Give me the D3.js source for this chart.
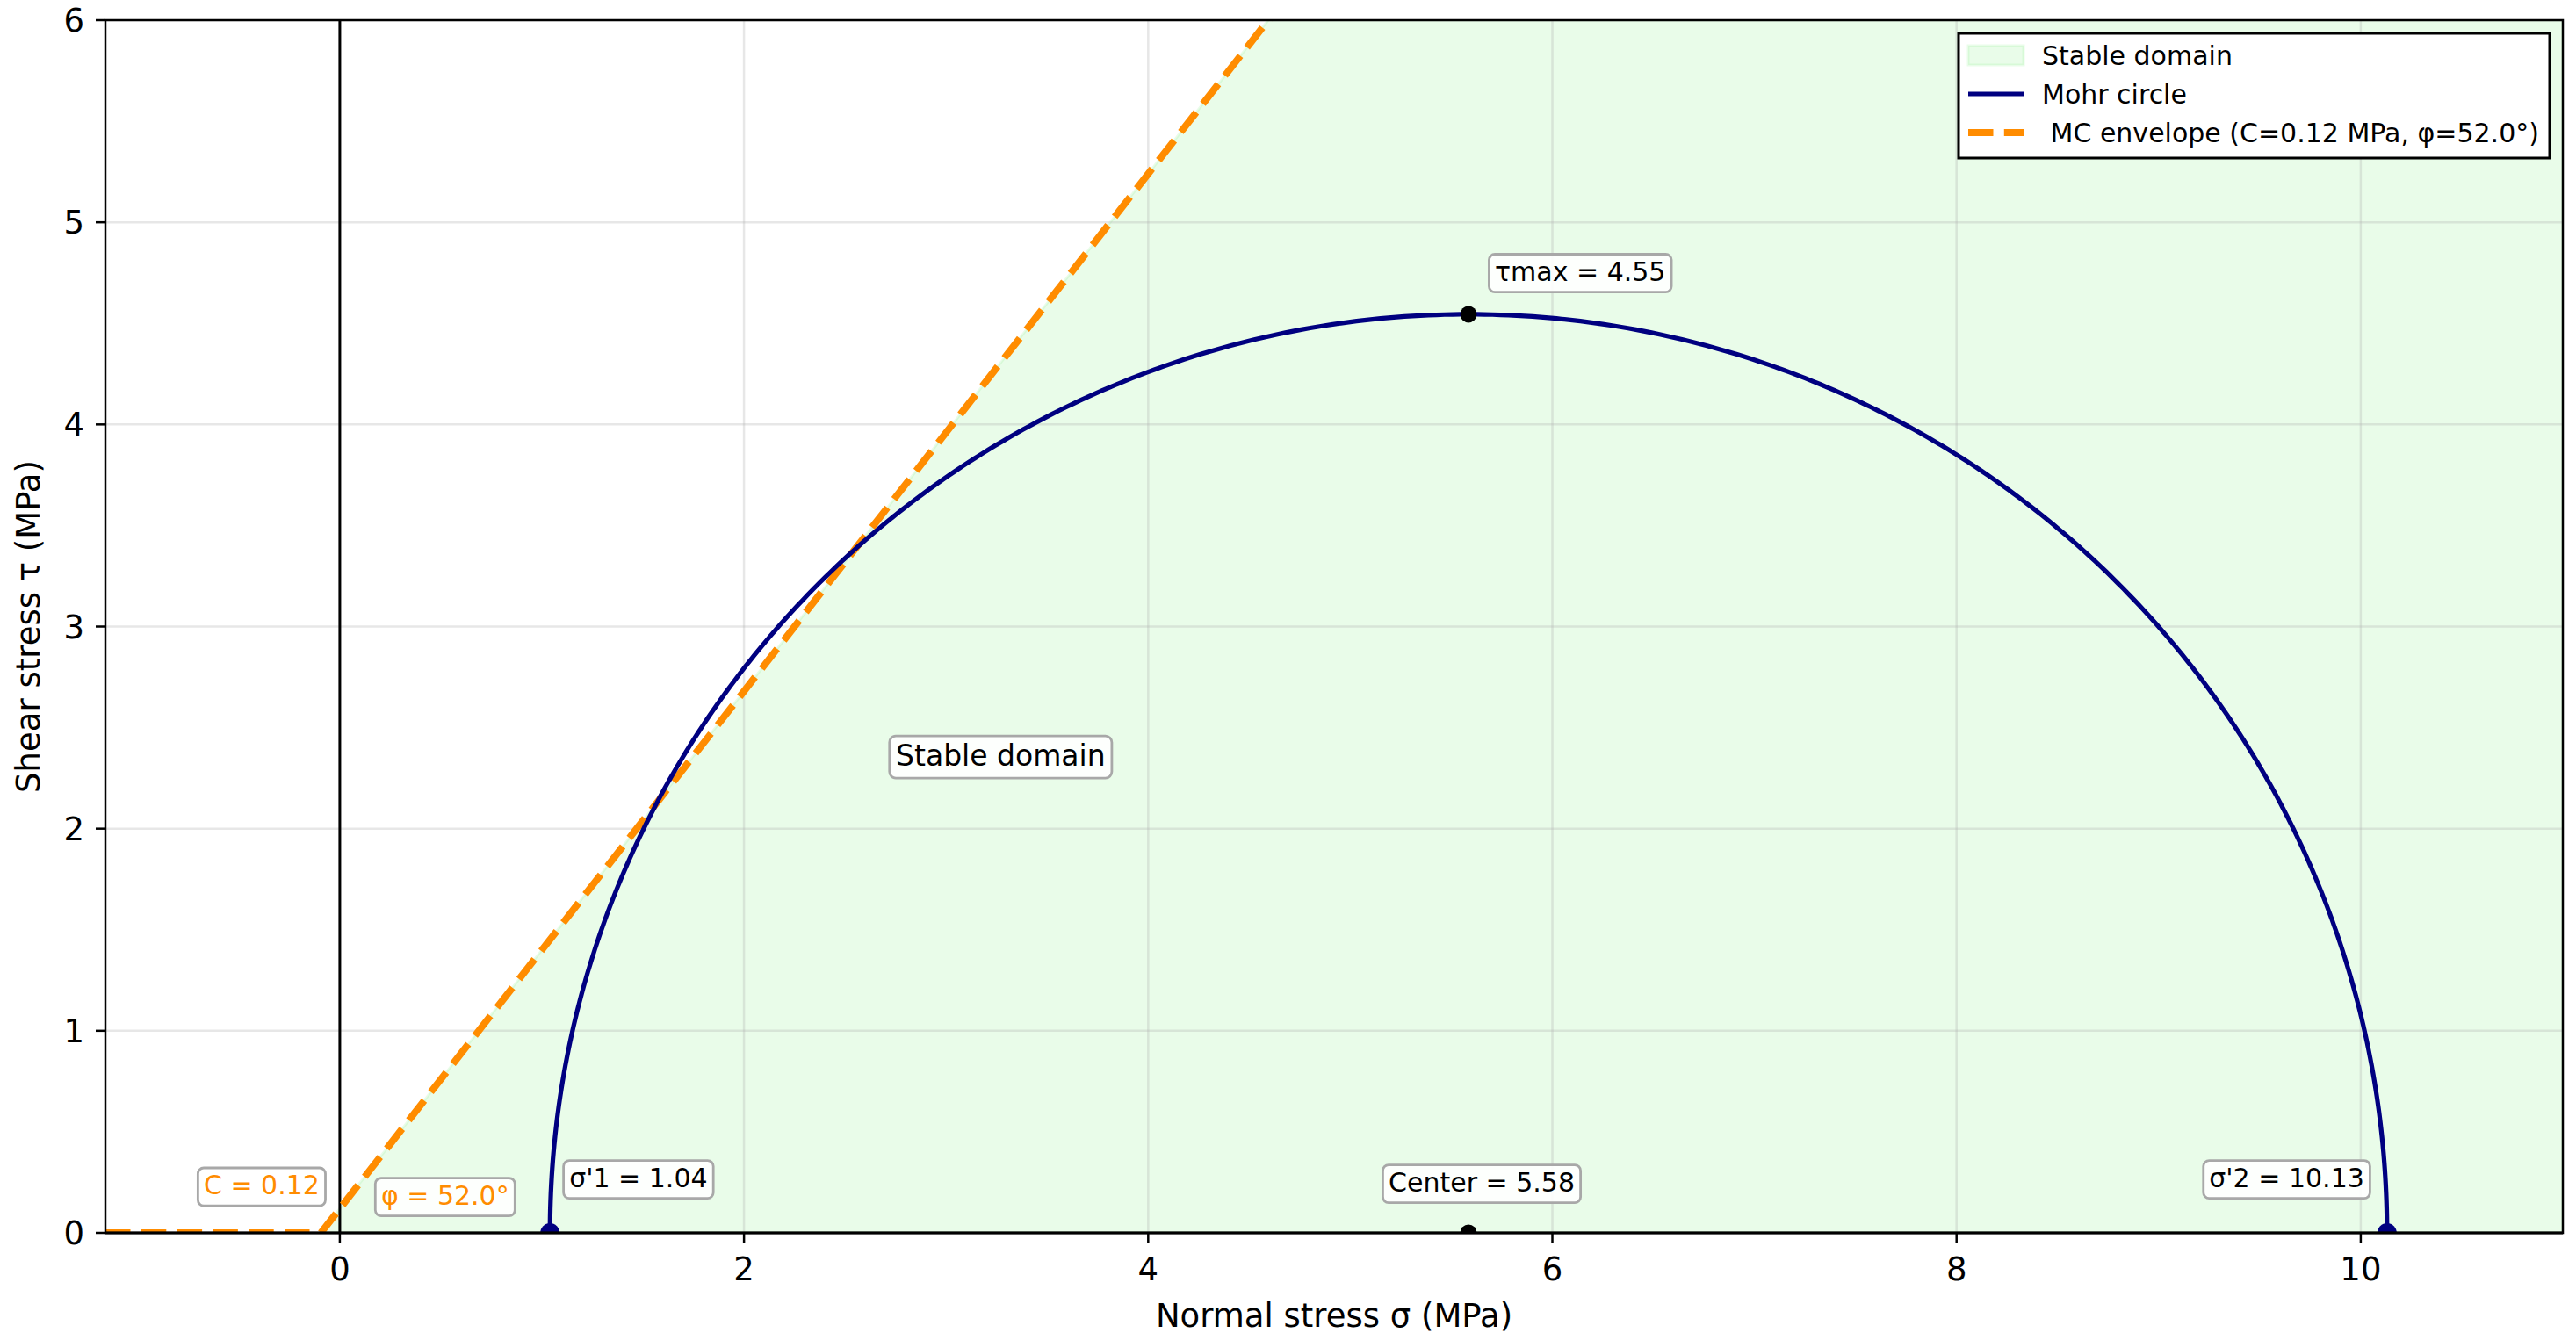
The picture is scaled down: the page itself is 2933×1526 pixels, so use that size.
<!DOCTYPE html>
<html>
<head>
<meta charset="utf-8">
<script src="https://cdn.jsdelivr.net/npm/d3@7"></script>
<style>
  body { margin: 0; background: #fff; }
  text { font-family: "DejaVu Sans", sans-serif; }
</style>
</head>
<body>
<svg id="chart"></svg>
<script>
// principal stresses (MPa) and strength parameters
const sigmaNames = ["σ'1", "σ'2"];
const sigmaValues = [1.04, 10.13];
const cohesion = 0.12;
const phiDeg = 52.0;

// axes
const xTicks = [0, 2, 4, 6, 8, 10];
const yTicks = [0, 1, 2, 3, 4, 5, 6];
const xDomain = [-1.16, 11.0];
const yDomain = [0, 6];

// annotation texts
const sigmaLabels = ["σ'1 = 1.04", "σ'2 = 10.13"];
const centerLabel = "Center = 5.58";
const tauLabel = "τmax = 4.55";
const cohesionLabel = "C = 0.12";
const phiLabel = "φ = 52.0°";
const domainLabel = "Stable domain";
const domainLabelAt = [3.27, 2.36];
const legendLabels = ["Stable domain", "Mohr circle", " MC envelope (C=0.12 MPa, φ=52.0°)"];

const width = 2933, height = 1526;
const margin = {top: 23, right: 15, bottom: 122, left: 120};

const NAVY = "#000080", ORANGE = "#ff8c00", GREEN = "rgba(144,238,144,0.2)";

const svg = d3.select("#chart").attr("width", width).attr("height", height);

const x = d3.scaleLinear().domain(xDomain).range([margin.left, width - margin.right]);
const y = d3.scaleLinear().domain(yDomain).range([height - margin.bottom, margin.top]);

svg.append("clipPath").attr("id", "plot-clip")
  .append("rect")
    .attr("x", x.range()[0]).attr("y", y.range()[1])
    .attr("width", x.range()[1] - x.range()[0])
    .attr("height", y.range()[0] - y.range()[1]);

const plot = svg.append("g").attr("clip-path", "url(#plot-clip)");

// derived values
const center = (sigmaValues[0] + sigmaValues[1]) / 2;
const radius = (sigmaValues[1] - sigmaValues[0]) / 2;
const tanPhi = Math.tan(phiDeg * Math.PI / 180);
const sigma0 = -cohesion / tanPhi;
const envelope = s => Math.max(0, cohesion + s * tanPhi);

// stable domain fill (under the envelope)
const fillPts = [[sigma0, 0], [xDomain[1], 0], [xDomain[1], envelope(xDomain[1])], [sigma0, 0]];
plot.append("path")
  .attr("d", d3.line().x(d => x(d[0])).y(d => y(d[1]))(fillPts))
  .attr("fill", GREEN)
  .attr("stroke", GREEN)
  .attr("stroke-width", 3);

// grid
plot.append("g").selectAll("line").data(xTicks).join("line")
  .attr("x1", d => x(d)).attr("x2", d => x(d))
  .attr("y1", y.range()[0]).attr("y2", y.range()[1])
  .attr("stroke", "#b0b0b0").attr("stroke-opacity", 0.3).attr("stroke-width", 2.5);
plot.append("g").selectAll("line").data(yTicks).join("line")
  .attr("y1", d => y(d)).attr("y2", d => y(d))
  .attr("x1", x.range()[0]).attr("x2", x.range()[1])
  .attr("stroke", "#b0b0b0").attr("stroke-opacity", 0.3).attr("stroke-width", 2.5);

// sigma = 0 axis line
plot.append("line")
  .attr("x1", x(0)).attr("x2", x(0))
  .attr("y1", y.range()[0]).attr("y2", y.range()[1])
  .attr("stroke", "#000").attr("stroke-width", 3);

// Mohr-Coulomb envelope
const envPts = [[xDomain[0], 0], [sigma0, 0], [xDomain[1], envelope(xDomain[1])]];
plot.append("path")
  .attr("d", d3.line().x(d => x(d[0])).y(d => y(d[1]))(envPts))
  .attr("fill", "none")
  .attr("stroke", ORANGE)
  .attr("stroke-width", 8)
  .attr("stroke-dasharray", "28.5,12.3");

// Mohr circle (upper half)
const arc = d3.range(0, 361).map(i => {
  const t = Math.PI - i * Math.PI / 360;
  return [center + radius * Math.cos(t), radius * Math.sin(t)];
});
plot.append("path")
  .attr("d", d3.line().x(d => x(d[0])).y(d => y(d[1]))(arc))
  .attr("fill", "none")
  .attr("stroke", NAVY)
  .attr("stroke-width", 5.2);

// markers
plot.selectAll("circle.sig").data(sigmaValues).join("circle")
  .attr("class", "sig")
  .attr("cx", d => x(d)).attr("cy", y(0)).attr("r", 11)
  .attr("fill", NAVY);
plot.selectAll("circle.ctr").data([[center, radius], [center, 0]]).join("circle")
  .attr("class", "ctr")
  .attr("cx", d => x(d[0])).attr("cy", d => y(d[1])).attr("r", 9.5)
  .attr("fill", "#000");

// spines
const [x0, x1] = x.range(), [y0, y1] = y.range();
svg.append("rect")
  .attr("x", x0).attr("y", y1).attr("width", x1 - x0).attr("height", y0 - y1)
  .attr("fill", "none").attr("stroke", "#000").attr("stroke-width", 2.5);
svg.append("line")
  .attr("x1", x0).attr("x2", x1).attr("y1", y(0)).attr("y2", y(0))
  .attr("stroke", "#000").attr("stroke-width", 3);

// ticks and tick labels
const axisG = svg.append("g");
axisG.selectAll("line.xt").data(xTicks).join("line")
  .attr("x1", d => x(d)).attr("x2", d => x(d))
  .attr("y1", y0).attr("y2", y0 + 11)
  .attr("stroke", "#000").attr("stroke-width", 2.5);
axisG.selectAll("text.xt").data(xTicks).join("text")
  .attr("x", d => x(d)).attr("y", y0 + 54)
  .attr("text-anchor", "middle").attr("font-size", 37).attr("fill", "#000")
  .text(d => d);
axisG.selectAll("line.yt").data(yTicks).join("line")
  .attr("x1", x0 - 11).attr("x2", x0)
  .attr("y1", d => y(d)).attr("y2", d => y(d))
  .attr("stroke", "#000").attr("stroke-width", 2.5);
axisG.selectAll("text.yt").data(yTicks).join("text")
  .attr("x", x0 - 24).attr("y", d => y(d) + 13)
  .attr("text-anchor", "end").attr("font-size", 37).attr("fill", "#000")
  .text(d => d);

// axis labels
svg.append("text")
  .attr("x", (x0 + x1) / 2).attr("y", 1511)
  .attr("text-anchor", "middle").attr("font-size", 37)
  .text("Normal stress σ (MPa)");
svg.append("text")
  .attr("transform", `translate(45,${(y0 + y1) / 2}) rotate(-90)`)
  .attr("text-anchor", "middle").attr("font-size", 37)
  .text("Shear stress τ (MPa)");

// boxed annotations
const annG = svg.append("g");
function boxedLabel(txt, px, py, anchor, size, color) {
  const g = annG.append("g");
  const t = g.append("text")
    .attr("x", px).attr("y", py)
    .attr("text-anchor", anchor).attr("font-size", size).attr("fill", color)
    .text(txt);
  const bb = t.node().getBBox();
  g.insert("rect", "text")
    .attr("x", bb.x - 0.22 * size).attr("y", bb.y - 0.08 * size)
    .attr("width", bb.width + 0.44 * size).attr("height", bb.height + 0.27 * size)
    .attr("rx", 0.22 * size)
    .attr("fill", "#fff").attr("fill-opacity", 0.9)
    .attr("stroke", "#a8a8a8").attr("stroke-width", 2.8);
}

boxedLabel(tauLabel, x(center) + 30, y(radius) - 38, "start", 30, "#000");
boxedLabel(centerLabel, x(center) + 15, y(0) - 47, "middle", 30, "#000");
boxedLabel(sigmaLabels[0], x(sigmaValues[0]) + 22, y(0) - 52, "start", 30, "#000");
boxedLabel(sigmaLabels[1], x(sigmaValues[1]) - 26, y(0) - 52, "end", 30, "#000");
boxedLabel(cohesionLabel, x(0) - 23, y(cohesion) - 16, "end", 30, ORANGE);
boxedLabel(phiLabel, x(0) + 47, y(0) - 32, "start", 30, ORANGE);
boxedLabel(domainLabel, x(domainLabelAt[0]), y(domainLabelAt[1]) + 11, "middle", 33, "#000");

// legend
const lg = svg.append("g");
lg.append("rect")
  .attr("x", 2230).attr("y", 38).attr("width", 673).attr("height", 142)
  .attr("fill", "#fff").attr("stroke", "#000").attr("stroke-width", 3);
const rowY = [63, 107, 151];
lg.append("rect")
  .attr("x", 2241).attr("y", rowY[0] - 11).attr("width", 63).attr("height", 22)
  .attr("fill", GREEN).attr("stroke", GREEN).attr("stroke-width", 3);
lg.append("line")
  .attr("x1", 2241).attr("x2", 2304).attr("y1", rowY[1]).attr("y2", rowY[1])
  .attr("stroke", NAVY).attr("stroke-width", 5.2);
lg.append("line")
  .attr("x1", 2241).attr("x2", 2304).attr("y1", rowY[2]).attr("y2", rowY[2])
  .attr("stroke", ORANGE).attr("stroke-width", 8).attr("stroke-dasharray", "28.5,12.3");
lg.selectAll("text").data(legendLabels).join("text")
  .attr("x", 2325).attr("y", (d, i) => rowY[i])
  .attr("dy", "0.36em")
  .attr("font-size", 30)
  .style("white-space", "pre")
  .attr("xml:space", "preserve")
  .text(d => d);
</script>
</body>
</html>
